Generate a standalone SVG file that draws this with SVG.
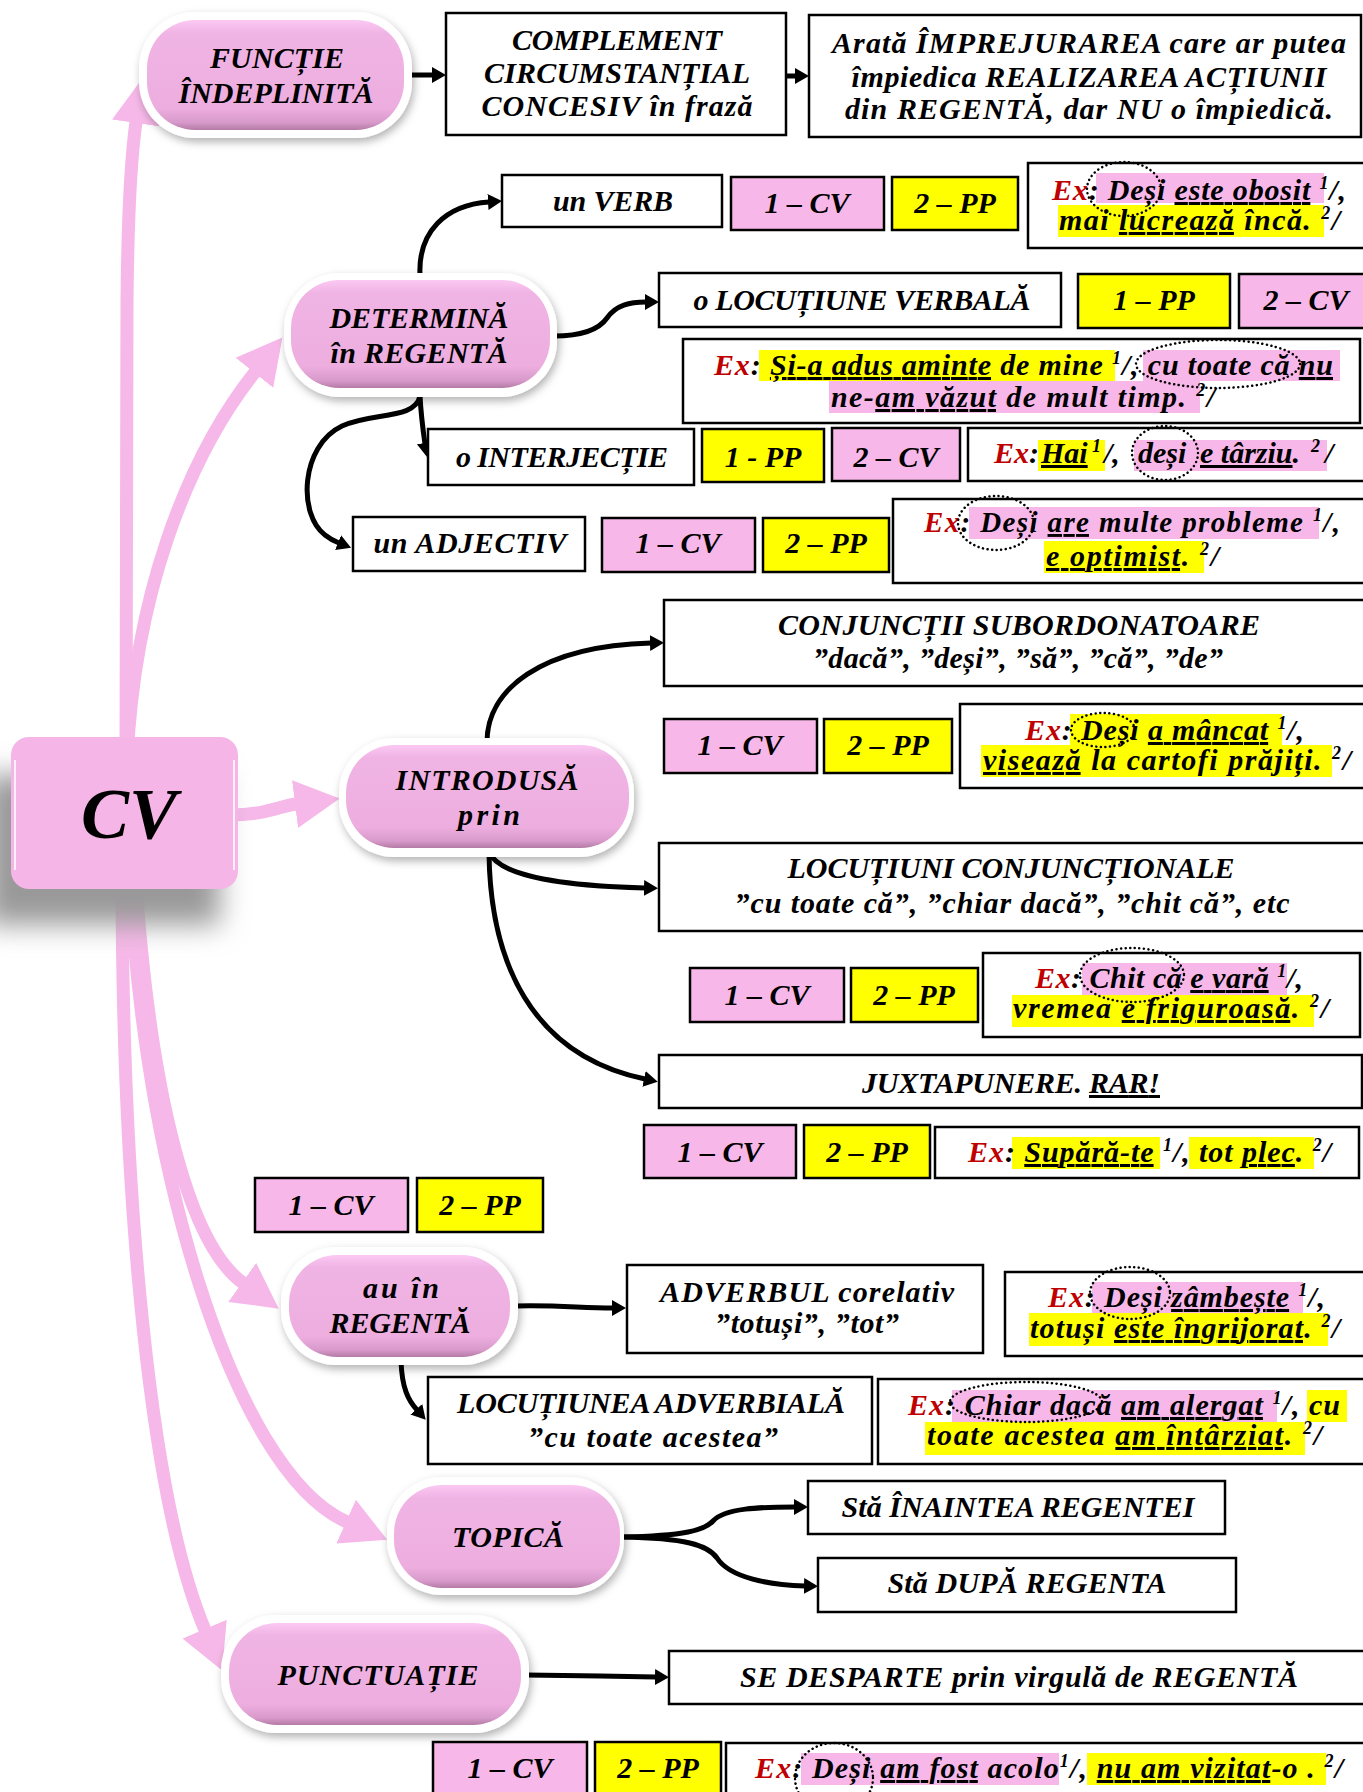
<svg xmlns="http://www.w3.org/2000/svg" width="1363" height="1792" viewBox="0 0 1363 1792">
<defs>
<style>
.bx{fill:#fff;stroke:#000;stroke-width:2.5}
.pk{fill:#F7B8E9;stroke:#000;stroke-width:2.5}
.yl{fill:#FFFF00;stroke:#000;stroke-width:2.5}
text{font-family:"Liberation Serif","DejaVu Serif",serif;font-weight:bold;font-style:italic;fill:#000}
.c{text-anchor:middle;font-size:30px}
.ex{font-size:30px}
.s{font-size:18px}
.r{fill:#C00000}
.u{text-decoration:underline}
.hp{fill:#F7B8E9}
.hy{fill:#FFFF00}
.ov{fill:none;stroke:#000;stroke-width:2.5;stroke-dasharray:0.1 4.5;stroke-linecap:round}
.cn{fill:none;stroke:#000;stroke-width:5;marker-end:url(#ah)}
.pa{fill:none;stroke:#F6B8E8;stroke-width:13;marker-end:url(#ph)}
.ring{fill:#fff;filter:url(#sh)}
.pill{fill:url(#pg)}
</style>
<marker id="ah" markerUnits="userSpaceOnUse" markerWidth="16" markerHeight="20" viewBox="0 -10 16 20" refX="1" refY="0" orient="auto"><path d="M0,-8 L14,0 L0,8 z" fill="#000"/></marker>
<marker id="ph" markerUnits="userSpaceOnUse" markerWidth="46" markerHeight="50" viewBox="0 -25 46 50" refX="1" refY="0" orient="auto"><path d="M0,-24 L45,0 L0,24 z" fill="#F6B8E8"/></marker>
<linearGradient id="pg" x1="0" y1="0" x2="0" y2="1">
<stop offset="0" stop-color="#FBC8F3"/><stop offset="0.12" stop-color="#F0B4E4"/><stop offset="0.8" stop-color="#EDAEDF"/><stop offset="0.93" stop-color="#D89ACB"/><stop offset="1" stop-color="#B47BA5"/>
</linearGradient>
<filter id="sh" x="-20%" y="-20%" width="140%" height="150%"><feDropShadow dx="2" dy="4" stdDeviation="4" flood-color="#000" flood-opacity="0.3"/></filter>
<filter id="cvs" x="-50%" y="-50%" width="200%" height="200%"><feGaussianBlur stdDeviation="14"/></filter>
</defs>
<rect width="1363" height="1792" fill="#fff"/>

<g id="connectors">
<path class="pa" d="M126 760 L127 300 C128 200 132 150 136 122"/>
<path class="pa" d="M127 760 C134 600 185 460 255 372"/>
<path class="pa" d="M230 815 C265 815 280 806 296 804"/>
<path class="pa" d="M135 870 C150 1100 190 1245 243 1283"/>
<path class="pa" d="M130 870 C140 1150 230 1470 347 1522"/>
<path class="pa" d="M122 870 C122 1200 150 1500 205 1630"/>
<path class="cn" d="M411 75 L433 75"/>
<path class="cn" d="M786 76 L796 76"/>
<path class="cn" d="M420 275 C418 232 445 205 489 202"/>
<path class="cn" d="M554 336 C585 336 600 328 607 318 C616 305 630 302 646 302"/>
<path class="cn" d="M420 396 C421 415 423 430 425 444"/>
<path class="cn" d="M420 396 C415 420 372 412 342 426 C300 446 298 515 325 535 C330 539 334 541 339 543"/>
<path class="cn" d="M487 742 C487 690 540 646 651 643"/>
<path class="cn" d="M489 852 C500 878 570 886 645 888"/>
<path class="cn" d="M489 852 C490 960 530 1055 645 1079"/>
<path class="cn" d="M515 1306 C560 1305 580 1308 613 1308"/>
<path class="cn" d="M401 1361 C402 1388 408 1400 417 1410"/>
<path class="cn" d="M622 1537 C685 1536 705 1530 713 1521 C725 1508 760 1507 795 1507"/>
<path class="cn" d="M622 1537 C685 1538 708 1545 717 1558 C730 1578 770 1585 805 1586"/>
<path class="cn" d="M526 1675 L600 1676 L656 1677"/>
</g>

<g id="cv">
<rect x="-15" y="775" width="235" height="150" fill="#999" filter="url(#cvs)"/>
<rect x="11" y="737" width="227" height="152" rx="18" fill="#F5B5E6"/>
<path d="M15 760 L15 870 M234 760 L234 870" stroke="#fff" stroke-width="2" opacity="0.8"/>
<text x="129" y="838" text-anchor="middle" style="font-size:72px">CV</text>
</g>

<g id="functie">
<rect class="ring" x="139" y="12" width="273" height="126" rx="56"/>
<rect class="pill" x="147" y="20" width="257" height="110" rx="48"/>
<text class="c" x="277" y="68" textLength="134">FUNCȚIE</text>
<text class="c" x="276" y="103" textLength="195">ÎNDEPLINITĂ</text>
</g>
<g id="complement">
<rect class="bx" x="446" y="13" width="340" height="122"/>
<text class="c" x="617" y="50" textLength="210">COMPLEMENT</text>
<text class="c" x="617" y="83" textLength="266">CIRCUMSTANȚIAL</text>
<text class="c" x="617" y="116" textLength="271">CONCESIV în frază</text>
</g>
<g id="arata">
<rect class="bx" x="809" y="15" width="552" height="122"/>
<text class="c" x="1089" y="53" textLength="514">Arată ÎMPREJURAREA care ar putea</text>
<text class="c" x="1089" y="87" textLength="475">împiedica REALIZAREA ACȚIUNII</text>
<text class="c" x="1089" y="119" textLength="488">din REGENTĂ, dar NU o împiedică.</text>
</g>

<g id="determina">
<rect class="ring" x="284" y="273" width="273" height="124" rx="56"/>
<rect class="pill" x="291" y="280" width="259" height="108" rx="48"/>
<text class="c" x="419" y="328" textLength="179">DETERMINĂ</text>
<text class="c" x="419" y="363" textLength="177">în REGENTĂ</text>
</g>

<g id="verb">
<rect class="bx" x="502" y="175" width="220" height="52"/>
<text class="c" x="613" y="211" textLength="120">un VERB</text>
<rect class="pk" x="731" y="177" width="153" height="53"/>
<text class="c" x="807" y="213">1 – CV</text>
<rect class="yl" x="892" y="177" width="126" height="53"/>
<text class="c" x="955" y="213">2 – PP</text>
<rect class="bx" x="1028" y="163" width="340" height="85"/>
<rect class="hp" x="1096" y="173" width="228" height="30"/>
<rect class="hy" x="1058" y="205" width="266" height="32"/>
<text class="ex" x="1052" y="200" textLength="294"><tspan class="r">Ex</tspan>: Deși <tspan class="u">este obosit</tspan> <tspan class="s" dy="-11">1</tspan><tspan dy="11">/,</tspan></text>
<text class="ex" x="1059" y="230" textLength="281">mai <tspan class="u">lucrează</tspan> încă. <tspan class="s" dy="-11">2</tspan><tspan dy="11">/</tspan></text>
<ellipse class="ov" cx="1124" cy="189" rx="37" ry="27"/>
</g>

<g id="locverb">
<rect class="bx" x="659" y="273" width="402" height="54"/>
<text class="c" x="862" y="310" textLength="337">o LOCUȚIUNE VERBALĂ</text>
<rect class="yl" x="1078" y="274" width="152" height="54"/>
<text class="c" x="1154" y="310">1 – PP</text>
<rect class="pk" x="1239" y="274" width="130" height="54"/>
<text class="c" x="1306" y="310">2 – CV</text>
<rect class="bx" x="683" y="339" width="677" height="84"/>
<rect class="hy" x="759" y="350" width="356" height="31"/>
<rect class="hp" x="1143" y="350" width="197" height="31"/>
<rect class="hp" x="829" y="381" width="371" height="32"/>
<text class="ex" x="714" y="375" textLength="619"><tspan class="r">Ex</tspan>: <tspan class="u">Și-a adus aminte</tspan> de mine <tspan class="s" dy="-11">1</tspan><tspan dy="11">/, cu toate că </tspan><tspan class="u">nu</tspan></text>
<text class="ex" x="831" y="407" textLength="384">ne-<tspan class="u">am văzut</tspan> de mult timp. <tspan class="s" dy="-11">2</tspan><tspan dy="11">/</tspan></text>
<ellipse class="ov" cx="1218" cy="364" rx="82" ry="24"/>
</g>

<g id="interj">
<rect class="bx" x="428" y="429" width="266" height="56"/>
<text class="c" x="562" y="467" textLength="212">o INTERJECȚIE</text>
<rect class="yl" x="702" y="429" width="122" height="53"/>
<text class="c" x="763" y="467">1 - PP</text>
<rect class="pk" x="832" y="428" width="128" height="53"/>
<text class="c" x="896" y="467">2 – CV</text>
<rect class="bx" x="968" y="428" width="400" height="53"/>
<rect class="hy" x="1038" y="440" width="67" height="31"/>
<rect class="hp" x="1134" y="440" width="193" height="31"/>
<text class="ex" x="994" y="463"><tspan class="r">Ex</tspan>:</text>
<text class="ex u" x="1041" y="463">Hai</text>
<text class="s" x="1092" y="452">1</text>
<text class="ex" x="1104" y="463">/,</text>
<text class="ex" x="1138" y="463">deși</text>
<text class="ex" x="1200" y="463"><tspan class="u">e târziu</tspan>.</text>
<text class="s" x="1311" y="452">2</text>
<text class="ex" x="1325" y="463">/</text>
<ellipse class="ov" cx="1165" cy="453" rx="33" ry="27"/>
</g>

<g id="adj">
<rect class="bx" x="353" y="517" width="232" height="54"/>
<text class="c" x="470" y="553" textLength="193">un ADJECTIV</text>
<rect class="pk" x="602" y="518" width="153" height="54"/>
<text class="c" x="678" y="553">1 – CV</text>
<rect class="yl" x="763" y="518" width="126" height="54"/>
<text class="c" x="826" y="553">2 – PP</text>
<rect class="bx" x="893" y="499" width="475" height="84"/>
<rect class="hp" x="969" y="507" width="350" height="32"/>
<rect class="hy" x="1044" y="541" width="160" height="32"/>
<text class="ex" x="924" y="532" style="font-size:29px" textLength="416"><tspan class="r">Ex</tspan>: Deși <tspan class="u">are</tspan> multe probleme <tspan class="s" dy="-11">1</tspan><tspan dy="11">/,</tspan></text>
<text class="ex" x="1046" y="566" textLength="173"><tspan class="u">e optimist</tspan>. <tspan class="s" dy="-11">2</tspan><tspan dy="11">/</tspan></text>
<ellipse class="ov" cx="996" cy="523" rx="38" ry="27"/>
</g>

<g id="introdusa">
<rect class="ring" x="339" y="738" width="295" height="119" rx="55"/>
<rect class="pill" x="346" y="745" width="283" height="103" rx="48"/>
<text class="c" x="487" y="790" textLength="183">INTRODUSĂ</text>
<text class="c" x="489" y="825" textLength="62">prin</text>
</g>

<g id="conj">
<rect class="bx" x="664" y="600" width="704" height="86"/>
<text class="c" x="1019" y="635" textLength="482">CONJUNCȚII SUBORDONATOARE</text>
<text class="c" x="1018" y="668" textLength="410">”dacă”, ”deși”, ”să”, ”că”, ”de”</text>
<rect class="pk" x="664" y="719" width="153" height="54"/>
<text class="c" x="740" y="755">1 – CV</text>
<rect class="yl" x="824" y="719" width="128" height="54"/>
<text class="c" x="888" y="755">2 – PP</text>
<rect class="bx" x="960" y="704" width="408" height="84"/>
<rect class="hy" x="1070" y="714" width="212" height="31"/>
<rect class="hy" x="981" y="745" width="351" height="32"/>
<text class="ex" x="1025" y="740" textLength="279"><tspan class="r">Ex</tspan>: Deși <tspan class="u">a mâncat</tspan> <tspan class="s" dy="-11">1</tspan><tspan dy="11">/,</tspan></text>
<text class="ex" x="983" y="770" textLength="368"><tspan class="u">visează</tspan> la cartofi prăjiți. <tspan class="s" dy="-11">2</tspan><tspan dy="11">/</tspan></text>
<ellipse class="ov" cx="1103" cy="730" rx="32" ry="17"/>
</g>

<g id="locconj">
<rect class="bx" x="659" y="843" width="709" height="88"/>
<text class="c" x="1011" y="878" textLength="447">LOCUȚIUNI CONJUNCȚIONALE</text>
<text class="c" x="1012" y="913" textLength="555">”cu toate că”, ”chiar dacă”, ”chit că”, etc</text>
<rect class="pk" x="690" y="968" width="154" height="54"/>
<text class="c" x="767" y="1005">1 – CV</text>
<rect class="yl" x="851" y="968" width="127" height="54"/>
<text class="c" x="914" y="1005">2 – PP</text>
<rect class="bx" x="983" y="953" width="377" height="84"/>
<rect class="hp" x="1082" y="963" width="205" height="32"/>
<rect class="hy" x="1012" y="995" width="302" height="32"/>
<text class="ex" x="1035" y="988" textLength="268"><tspan class="r">Ex</tspan>: Chit că <tspan class="u">e vară</tspan> <tspan class="s" dy="-11">1</tspan><tspan dy="11">/,</tspan></text>
<text class="ex" x="1013" y="1018" textLength="316">vremea <tspan class="u">e friguroasă</tspan>. <tspan class="s" dy="-11">2</tspan><tspan dy="11">/</tspan></text>
<ellipse class="ov" cx="1132" cy="975" rx="52" ry="27"/>
</g>

<g id="juxt">
<rect class="bx" x="659" y="1055" width="703" height="53"/>
<text class="c" x="1011" y="1093" textLength="298">JUXTAPUNERE. <tspan style="text-decoration:underline">RAR!</tspan></text>
<rect class="pk" x="644" y="1125" width="152" height="53"/>
<text class="c" x="720" y="1162">1 – CV</text>
<rect class="yl" x="804" y="1125" width="126" height="53"/>
<text class="c" x="867" y="1162">2 – PP</text>
<rect class="bx" x="935" y="1127" width="424" height="51"/>
<rect class="hy" x="1012" y="1137" width="148" height="32"/>
<rect class="hy" x="1189" y="1137" width="125" height="32"/>
<text class="ex" x="968" y="1162" textLength="363"><tspan class="r">Ex</tspan>: <tspan class="u">Supără-te</tspan> <tspan class="s" dy="-11">1</tspan><tspan dy="11">/, tot </tspan><tspan class="u">plec</tspan>. <tspan class="s" dy="-11">2</tspan><tspan dy="11">/</tspan></text>
</g>

<g id="au-in-regenta">
<rect class="pk" x="255" y="1178" width="153" height="54"/>
<text class="c" x="331" y="1215">1 – CV</text>
<rect class="yl" x="417" y="1178" width="126" height="54"/>
<text class="c" x="480" y="1215">2 – PP</text>
<rect class="ring" x="281" y="1247" width="237" height="118" rx="55"/>
<rect class="pill" x="289" y="1255" width="221" height="102" rx="48"/>
<text class="c" x="401" y="1298" textLength="76">au în</text>
<text class="c" x="400" y="1333" textLength="141">REGENTĂ</text>
</g>

<g id="adverbul">
<rect class="bx" x="627" y="1265" width="356" height="88"/>
<text class="c" x="807" y="1302" textLength="294">ADVERBUL corelativ</text>
<text class="c" x="807" y="1333" textLength="184">”totuși”, ”tot”</text>
<rect class="bx" x="1005" y="1272" width="363" height="84"/>
<rect class="hp" x="1092" y="1282" width="211" height="31"/>
<rect class="hy" x="1029" y="1313" width="299" height="33"/>
<text class="ex" x="1048" y="1307" textLength="277"><tspan class="r">Ex</tspan>: Deși <tspan class="u">zâmbește</tspan> <tspan class="s" dy="-11">1</tspan><tspan dy="11">/,</tspan></text>
<text class="ex" x="1030" y="1338" textLength="310">totuși <tspan class="u">este îngrijorat</tspan>. <tspan class="s" dy="-11">2</tspan><tspan dy="11">/</tspan></text>
<ellipse class="ov" cx="1130" cy="1293" rx="40" ry="26"/>
</g>

<g id="locadv">
<rect class="bx" x="428" y="1377" width="444" height="87"/>
<text class="c" x="651" y="1413" textLength="388">LOCUȚIUNEA ADVERBIALĂ</text>
<text class="c" x="653" y="1447" textLength="250">”cu toate acestea”</text>
<rect class="bx" x="878" y="1379" width="490" height="85"/>
<rect class="hp" x="952" y="1390" width="325" height="32"/>
<rect class="hy" x="1307" y="1390" width="40" height="32"/>
<rect class="hy" x="925" y="1422" width="380" height="33"/>
<text class="ex" x="908" y="1415" textLength="432"><tspan class="r">Ex</tspan>: Chiar dacă <tspan class="u">am alergat</tspan> <tspan class="s" dy="-11">1</tspan><tspan dy="11">/, cu</tspan></text>
<text class="ex" x="927" y="1445" textLength="395">toate acestea <tspan class="u">am întârziat</tspan>. <tspan class="s" dy="-11">2</tspan><tspan dy="11">/</tspan></text>
<ellipse class="ov" cx="1026" cy="1402" rx="76" ry="20"/>
</g>

<g id="topica">
<rect class="ring" x="387" y="1477" width="237" height="118" rx="55"/>
<rect class="pill" x="394" y="1485" width="226" height="103" rx="48"/>
<text class="c" x="508" y="1547" textLength="112">TOPICĂ</text>
</g>
<g id="inaintea">
<rect class="bx" x="808" y="1481" width="417" height="53"/>
<text class="c" x="1018" y="1517" textLength="353">Stă ÎNAINTEA REGENTEI</text>
</g>
<g id="dupa">
<rect class="bx" x="818" y="1558" width="418" height="54"/>
<text class="c" x="1027" y="1593" textLength="279">Stă DUPĂ REGENTA</text>
</g>

<g id="punctuatie">
<rect class="ring" x="221" y="1615" width="308" height="118" rx="55"/>
<rect class="pill" x="229" y="1623" width="292" height="102" rx="48"/>
<text class="c" x="378" y="1685" textLength="201">PUNCTUAȚIE</text>
</g>
<g id="sedesparte">
<rect class="bx" x="669" y="1651" width="699" height="53"/>
<text class="c" x="1019" y="1687" textLength="558">SE DESPARTE prin virgulă de REGENTĂ</text>
<rect class="pk" x="433" y="1742" width="154" height="60"/>
<text class="c" x="510" y="1778">1 – CV</text>
<rect class="yl" x="595" y="1742" width="126" height="60"/>
<text class="c" x="658" y="1778">2 – PP</text>
<rect class="bx" x="726" y="1743" width="642" height="60"/>
<rect class="hp" x="801" y="1753" width="258" height="32"/>
<rect class="hy" x="1087" y="1753" width="239" height="32"/>
<text class="ex" x="755" y="1778" textLength="588"><tspan class="r">Ex</tspan>: Deși <tspan class="u">am fost</tspan> acolo<tspan class="s" dy="-11">1</tspan><tspan dy="11">/, </tspan><tspan class="u">nu am vizitat</tspan>-o . <tspan class="s" dy="-11">2</tspan><tspan dy="11">/</tspan></text>
<ellipse class="ov" cx="834" cy="1778" rx="39" ry="35"/>
</g>
</svg>
